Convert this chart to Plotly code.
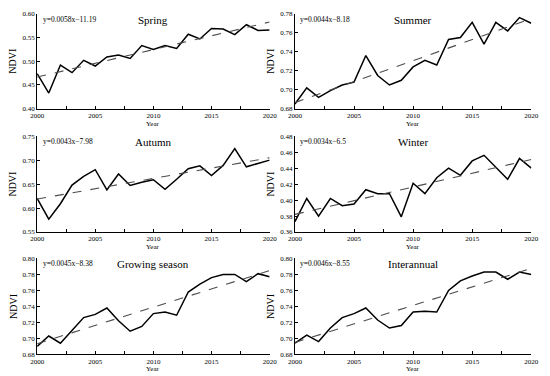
import numpy as np
import plotly.graph_objects as go
from plotly.subplots import make_subplots

years = list(range(2000, 2021))

spring = [0.474, 0.433, 0.492, 0.476, 0.502, 0.490, 0.509, 0.513, 0.506, 0.533, 0.525,
          0.533, 0.527, 0.557, 0.547, 0.569, 0.568, 0.556, 0.577, 0.565, 0.566]
summer = [0.685, 0.702, 0.692, 0.699, 0.705, 0.708, 0.736, 0.715, 0.705, 0.710, 0.724,
          0.731, 0.726, 0.753, 0.755, 0.771, 0.748, 0.771, 0.762, 0.776, 0.770]
autumn = [0.620, 0.577, 0.609, 0.648, 0.666, 0.680, 0.638, 0.671, 0.647, 0.654, 0.659,
          0.639, 0.660, 0.682, 0.688, 0.668, 0.689, 0.724, 0.686, 0.693, 0.700]
winter = [0.373, 0.402, 0.380, 0.402, 0.393, 0.395, 0.413, 0.408, 0.408, 0.379, 0.421,
          0.408, 0.428, 0.440, 0.431, 0.449, 0.456, 0.441, 0.426, 0.452, 0.440]
growing = [0.690, 0.703, 0.694, 0.710, 0.726, 0.730, 0.738, 0.722, 0.709, 0.715, 0.731,
           0.733, 0.729, 0.758, 0.768, 0.776, 0.780, 0.780, 0.771, 0.781, 0.777]
interannual = [0.694, 0.704, 0.696, 0.713, 0.726, 0.731, 0.738, 0.723, 0.713, 0.716, 0.733,
               0.734, 0.733, 0.760, 0.772, 0.778, 0.783, 0.783, 0.774, 0.783, 0.780]

titles = ["Spring", "Summer", "Autumn", "Winter", "Growing season", "Interannual"]
equations = ["y=0.0058x\u221211.19", "y=0.0044x\u22128.18", "y=0.0043x\u22127.98",
             "y=0.0034x\u22126.5", "y=0.0045x\u22128.38", "y=0.0046x\u22128.55"]
series = [spring, summer, autumn, winter, growing, interannual]
y_ranges = [(0.40, 0.60), (0.68, 0.78), (0.55, 0.75), (0.36, 0.48), (0.68, 0.80), (0.68, 0.80)]
y_dticks = [0.05, 0.02, 0.05, 0.02, 0.02, 0.02]
x_ticks = [2000, 2005, 2010, 2015, 2020]

W, H = 550, 376
x_doms = [(31 / W, 270 / W), (296 / W, 539 / W)]
y_doms = [(1 - 107 / H, 1 - 10 / H), (1 - 233 / H, 1 - 135 / H), (1 - 358 / H, 1 - 260 / H)]

FONT = "Liberation Serif"

fig = make_subplots(rows=3, cols=2)

for i, (vals, title, eq) in enumerate(zip(series, titles, equations)):
    r, c = i // 2 + 1, i % 2 + 1
    k = np.polyfit(years, vals, 1)
    trend = np.polyval(k, years)
    fig.add_trace(go.Scatter(x=years, y=vals, mode="lines",
                             line=dict(color="black", width=1.5), showlegend=False), row=r, col=c)
    fig.add_trace(go.Scatter(x=[years[0], years[-1]], y=[trend[0], trend[-1]], mode="lines",
                             line=dict(color="#4d4d4d", width=1.1, dash="dash"),
                             showlegend=False), row=r, col=c)
    xa = "xaxis" if i == 0 else f"xaxis{i + 1}"
    ya = "yaxis" if i == 0 else f"yaxis{i + 1}"
    xd = x_doms[c - 1]
    yd = y_doms[r - 1]
    fig.layout[xa].update(domain=list(xd), range=[2000, 2020], tickvals=x_ticks,
                          showgrid=False, zeroline=False, showline=True, linecolor="black",
                          linewidth=1, ticks="inside", ticklen=3, tickcolor="black",
                          minor=dict(dtick=2.5, tick0=2000, ticks="inside", ticklen=3,
                                     tickcolor="black", showgrid=False),
                          ticklabeloverflow="allow",
                          tickfont=dict(family=FONT, size=7, color="black"))
    lo, hi = y_ranges[i]
    fig.layout[ya].update(domain=list(yd), range=[lo, hi], dtick=y_dticks[i], tick0=lo,
                          tickformat=".2f", showgrid=False, zeroline=False, showline=True,
                          linecolor="black", linewidth=1, ticks="inside", ticklen=3,
                          tickcolor="black",
                          tickfont=dict(family=FONT, size=7, color="black"),
                          title=dict(text="NDVI", font=dict(family=FONT, size=10, color="black"),
                                     standoff=3))
    xref = "x domain" if i == 0 else f"x{i + 1} domain"
    yref = "y domain" if i == 0 else f"y{i + 1} domain"
    fig.add_annotation(x=0.5, y=1.0, xref=xref, yref=yref, text=title, showarrow=False,
                       xanchor="center", yanchor="top", yshift=2,
                       font=dict(family=FONT, size=11, color="black"))
    fig.add_annotation(x=0.015, y=1.0, xref=xref, yref=yref, text=eq, showarrow=False,
                       xanchor="left", yanchor="top", yshift=1,
                       font=dict(family=FONT, size=7.5, color="black"))
    fig.add_annotation(x=0.5, y=0.0, xref=xref, yref=yref, text="Year", showarrow=False,
                       xanchor="center", yanchor="top", yshift=-10, borderpad=0,
                       font=dict(family=FONT, size=7, color="black"))

fig.update_layout(width=W, height=H, margin=dict(l=0, r=0, t=0, b=0),
                  paper_bgcolor="white", plot_bgcolor="white",
                  font=dict(family=FONT, color="black"))

fig.write_html("out.html", config={"displayModeBar": False},
               post_script="document.body.style.margin='0';document.body.style.overflow='hidden';")
